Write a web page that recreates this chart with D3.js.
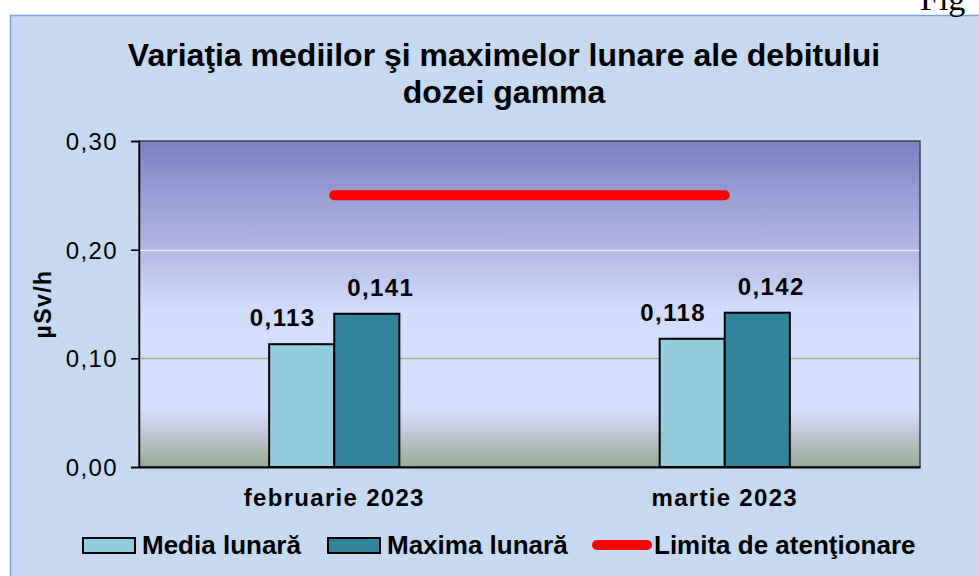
<!DOCTYPE html>
<html>
<head>
<meta charset="utf-8">
<script src="https://cdn.jsdelivr.net/npm/d3@7"></script>
<style>
  html, body { margin: 0; padding: 0; background: #ffffff; }
  svg { display: block; }
</style>
</head>
<body>
<svg id="chart" width="979" height="576"></svg>
<script>
// ---- data ----
const categories = ["februarie 2023", "martie 2023"];
const seriesNames = ["Media lunară", "Maxima lunară"];
const mediaValues = [0.113, 0.118];
const maximaValues = [0.141, 0.142];
const limitValue = 0.25;
const limitName = "Limita de atenţionare";
const yTicks = [0, 0.1, 0.2, 0.3];
const titleLines = ["Variaţia mediilor şi maximelor lunare ale debitului", "dozei gamma"];
const yAxisTitle = "µSv/h";

// ---- layout ----
const svg = d3.select("#chart");
const W = 979, H = 576;
const plot = { left: 139, right: 920, top: 141, bottom: 467 };
const colors = { "Media lunară": "#93cddd", "Maxima lunară": "#31849b" };
const fontSans = "'Liberation Sans', Arial, sans-serif";

// outer chart box
svg.append("rect").attr("x", 0).attr("y", 0).attr("width", W).attr("height", H).attr("fill", "#ffffff");
svg.append("rect")
  .attr("x", 10.5).attr("y", 15.5).attr("width", W + 20).attr("height", H + 20)
  .attr("fill", "#c6d9f0").attr("stroke", "#79a5dc").attr("stroke-width", 1.5);

// "Fig" fragment at top right (from surrounding document)
svg.append("text").attr("x", 920).attr("y", 10)
  .attr("font-family", "'Liberation Serif', 'Times New Roman', serif")
  .attr("font-size", 34).attr("fill", "#000").text("Fig");

// title
svg.append("g").selectAll("text").data(titleLines).join("text")
  .attr("x", 504).attr("y", (d, i) => 66 + i * 37)
  .attr("text-anchor", "middle")
  .attr("font-family", fontSans).attr("font-weight", "bold").attr("font-size", 32)
  .attr("fill", "#000").text(d => d);

// scales
const x0 = d3.scaleBand().domain(categories).range([plot.left, plot.right]).paddingInner(0).paddingOuter(0);
const bw = x0.bandwidth();
const x1 = d3.scaleBand().domain(seriesNames).range([bw / 3, 2 * bw / 3]).padding(0);
const y = d3.scaleLinear().domain([0, 0.3]).range([plot.bottom, plot.top]);

// plot background gradient
const defs = svg.append("defs");
const grad = defs.append("linearGradient").attr("id", "bg").attr("x1", 0).attr("y1", 0).attr("x2", 0).attr("y2", 1);
[[0, "#7d82c1"], [0.33, "#b2b7e4"], [0.52, "#d2dcfd"], [0.82, "#d4deff"], [0.89, "#c4c9da"], [1, "#97aa93"]]
  .forEach(([o, c]) => grad.append("stop").attr("offset", o).attr("stop-color", c));
svg.append("rect")
  .attr("x", plot.left).attr("y", plot.top)
  .attr("width", plot.right - plot.left).attr("height", plot.bottom - plot.top)
  .attr("fill", "url(#bg)");

// gridlines
const gridColor = v => (Math.abs(v - 0.2) < 1e-9 ? "#e4e8f8" : "#9ab87a");
svg.append("g").selectAll("line").data(yTicks.filter(v => v > 0 && v < 0.3)).join("line")
  .attr("x1", plot.left).attr("x2", plot.right)
  .attr("y1", d => Math.round(y(d)) + 0.5).attr("y2", d => Math.round(y(d)) + 0.5)
  .attr("stroke", d => gridColor(d)).attr("stroke-width", 1.5);

// plot border
svg.append("rect")
  .attr("x", plot.left).attr("y", plot.top)
  .attr("width", plot.right - plot.left).attr("height", plot.bottom - plot.top)
  .attr("fill", "none").attr("stroke", "#3f4350").attr("stroke-width", 1.5);

// bars
const rows = categories.map((c, i) => ({ cat: c, vals: [
  { s: seriesNames[0], v: mediaValues[i] },
  { s: seriesNames[1], v: maximaValues[i] }
]}));
const groups = svg.append("g").selectAll("g").data(rows).join("g")
  .attr("transform", d => `translate(${x0(d.cat)},0)`);
groups.selectAll("rect").data(d => d.vals).join("rect")
  .attr("x", d => x1(d.s)).attr("width", x1.bandwidth())
  .attr("y", d => y(d.v)).attr("height", d => y(0) - y(d.v))
  .attr("fill", d => colors[d.s]).attr("stroke", "#000").attr("stroke-width", 2);

// data labels
groups.selectAll("text").data(d => d.vals).join("text")
  .attr("x", d => x1(d.s) + x1.bandwidth() / 2 + (d.s === seriesNames[0] ? -19 : 14))
  .attr("y", d => y(d.v) - 18)
  .attr("text-anchor", "middle")
  .attr("font-family", fontSans).attr("font-weight", "bold").attr("font-size", 24)
  .attr("letter-spacing", 1.4).attr("fill", "#000")
  .text(d => d3.format(".3f")(d.v).replace(".", ","));

// limit line
svg.append("line")
  .attr("x1", x0(categories[0]) + bw / 2).attr("x2", x0(categories[categories.length - 1]) + bw / 2)
  .attr("y1", y(limitValue)).attr("y2", y(limitValue))
  .attr("stroke", "#ff0000").attr("stroke-width", 10).attr("stroke-linecap", "round");

// y axis
const yAxis = d3.axisLeft(y).tickValues(yTicks).tickSize(8).tickPadding(13)
  .tickFormat(d => d3.format(".2f")(d).replace(".", ","));
const gy = svg.append("g").attr("transform", `translate(${plot.left},0)`).call(yAxis);
gy.select(".domain").attr("stroke", "#000").attr("stroke-width", 1.5);
gy.selectAll(".tick line").attr("stroke", "#000").attr("stroke-width", 1.5);
gy.selectAll(".tick text")
  .attr("font-family", fontSans).attr("font-size", 24).attr("letter-spacing", 1.4)
  .attr("fill", "#000").attr("dy", "0.36em");

// x axis
const xAxis = d3.axisBottom(x0).tickSize(0).tickPadding(0);
const gx = svg.append("g").attr("transform", `translate(0,${plot.bottom})`).call(xAxis);
gx.select(".domain").attr("stroke", "#000").attr("stroke-width", 2);
gx.selectAll(".tick text")
  .attr("y", 39).attr("dy", 0)
  .attr("font-family", fontSans).attr("font-weight", "bold").attr("font-size", 24)
  .attr("letter-spacing", 1.3).attr("fill", "#000");

// y axis title
svg.append("text")
  .attr("transform", "translate(51,304) rotate(-90)")
  .attr("text-anchor", "middle")
  .attr("font-family", fontSans).attr("font-weight", "bold").attr("font-size", 23)
  .attr("letter-spacing", 1.4).attr("fill", "#000")
  .text(yAxisTitle);

// legend
const legendItems = [
  { name: seriesNames[0], type: "rect", x: 83 },
  { name: seriesNames[1], type: "rect", x: 328 },
  { name: limitName, type: "line", x: 592 }
];
const lg = svg.append("g").selectAll("g").data(legendItems).join("g")
  .attr("transform", d => `translate(${d.x},0)`);
lg.filter(d => d.type === "rect").append("rect")
  .attr("x", 0).attr("y", 538).attr("width", 52).attr("height", 15)
  .attr("fill", d => colors[d.name]).attr("stroke", "#000").attr("stroke-width", 2);
lg.filter(d => d.type === "line").append("line")
  .attr("x1", 5).attr("x2", 55).attr("y1", 545).attr("y2", 545)
  .attr("stroke", "#ff0000").attr("stroke-width", 10).attr("stroke-linecap", "round");
lg.append("text")
  .attr("x", d => d.type === "rect" ? 59 : 62).attr("y", 554)
  .attr("font-family", fontSans).attr("font-weight", "bold").attr("font-size", 26)
  .attr("fill", "#000").text(d => d.name);
</script>
</body>
</html>
